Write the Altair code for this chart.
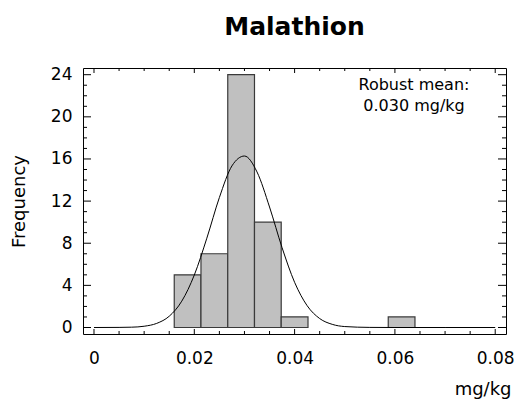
import altair as alt
import pandas as pd

# Histogram bins (mg/kg) and counts
bin_start = [0.016, 0.02133, 0.02667, 0.032, 0.03733, 0.05867]
bin_end = [0.02133, 0.02667, 0.032, 0.03733, 0.04267, 0.064]
counts = [5, 7, 24, 10, 1, 1]

# Fitted curve
curve_x = [0.0, 0.005, 0.0075, 0.01, 0.0125, 0.015, 0.0175, 0.02, 0.0225, 0.025,
           0.0275, 0.03, 0.0325, 0.035, 0.0375, 0.04, 0.0425, 0.045, 0.0475,
           0.05, 0.055, 0.06, 0.07, 0.08]
curve_y = [0.0, 0.01, 0.03, 0.12, 0.39, 1.07, 2.5, 4.98, 8.48, 12.34,
           15.34, 16.28, 14.77, 11.44, 7.58, 4.29, 2.07, 0.85, 0.3,
           0.09, 0.01, 0.0, 0.0, 0.0]

# Axis ticks / labels
x_major = [0.0, 0.02, 0.04, 0.06, 0.08]
x_minor = [0.005, 0.01, 0.015, 0.025, 0.03, 0.035, 0.045, 0.05, 0.055,
           0.065, 0.07, 0.075]
y_major = [0, 4, 8, 12, 16, 20, 24]
y_minor = [1, 2, 3, 5, 6, 7, 9, 10, 11, 13, 14, 15, 17, 18, 19, 21, 22, 23]

title_text = "Malathion"
x_title = "mg/kg"
y_title = "Frequency"
note_lines = ["Robust mean:", "0.030 mg/kg"]
note_pos = (0.0638, 22.5)

W, H = 423, 266
FONT = "DejaVu Sans"

xs = alt.Scale(domain=[-0.002193, 0.08215], nice=False, zero=False)
ys = alt.Scale(domain=[-0.617, 24.636], nice=False, zero=False)

bars_df = pd.DataFrame({"lo": bin_start, "hi": bin_end, "count": counts})
curve_df = pd.DataFrame({"x": curve_x, "y": curve_y})

bars = alt.Chart(bars_df).mark_rect(
    fill="#c0c0c0", stroke="#3a3a3a", strokeWidth=1.2
).encode(
    x=alt.X("lo:Q", scale=xs,
            axis=alt.Axis(values=x_major, ticks=False, domain=False, grid=False,
                          labelExpr="datum.value == 0 ? '0' : format(datum.value, '.2f')",
                          labelFontSize=17, labelPadding=16, labelFlush=False,
                          labelFont=FONT, labelColor="black",
                          title=x_title, titleFontSize=18, titleFont=FONT,
                          titleFontWeight="normal", titleColor="black",
                          titleAlign="right", titleAnchor="end",
                          titleBaseline="alphabetic", titleX=428, titleY=60)),
    x2="hi:Q",
    y=alt.Y("count:Q", scale=ys,
            axis=alt.Axis(values=y_major, ticks=False, domain=False, grid=False,
                          labelFontSize=17, labelPadding=11,
                          labelFont=FONT, labelColor="black", labelFlush=False,
                          title=y_title, titleFontSize=18, titleFont=FONT,
                          titleFontWeight="normal", titleColor="black",
                          titleAngle=270, titleBaseline="middle",
                          titleAlign="center", titleX=-64, titleY=H / 2)),
    y2=alt.datum(0),
)

curve = alt.Chart(curve_df).mark_line(
    color="black", strokeWidth=1, interpolate="monotone"
).encode(
    x=alt.X("x:Q", scale=xs),
    y=alt.Y("y:Q", scale=ys),
)


def tick_layer(vals, side, length):
    df = pd.DataFrame({"v": vals})
    base = alt.Chart(df).mark_rule(color="black", strokeWidth=1)
    if side == "bottom":
        return base.encode(x=alt.X("v:Q", scale=xs),
                           y=alt.value(H), y2=alt.value(H - length))
    if side == "top":
        return base.encode(x=alt.X("v:Q", scale=xs),
                           y=alt.value(0), y2=alt.value(length))
    if side == "left":
        return base.encode(y=alt.Y("v:Q", scale=ys),
                           x=alt.value(0), x2=alt.value(length))
    return base.encode(y=alt.Y("v:Q", scale=ys),
                       x=alt.value(W), x2=alt.value(W - length))


ticks = [
    tick_layer(x_major, "bottom", 5), tick_layer(x_minor, "bottom", 3),
    tick_layer(x_major, "top", 5), tick_layer(x_minor, "top", 3),
    tick_layer(y_major, "left", 8), tick_layer(y_minor, "left", 4),
    tick_layer(y_major, "right", 8), tick_layer(y_minor, "right", 4),
]

note = alt.Chart(pd.DataFrame({"a": [0]})).mark_text(
    font=FONT, fontSize=16, align="center", baseline="alphabetic",
    lineHeight=21, color="black"
).encode(
    x=alt.XDatum(note_pos[0], scale=xs),
    y=alt.YDatum(note_pos[1], scale=ys),
    text=alt.value(note_lines),
)

chart = alt.layer(bars, curve, *ticks, note).properties(
    width=W, height=H,
    title=alt.TitleParams(text=title_text, fontSize=25, fontWeight="bold",
                          font=FONT, anchor="middle", offset=26, color="black"),
    padding={"left": 75, "top": 60, "right": 8, "bottom": 68},
    autosize=alt.AutoSizeParams(type="none"),
    background="white",
).configure_view(stroke="black", strokeWidth=1)

chart.save("out.html", embed_options={"renderer": "svg", "actions": False})
